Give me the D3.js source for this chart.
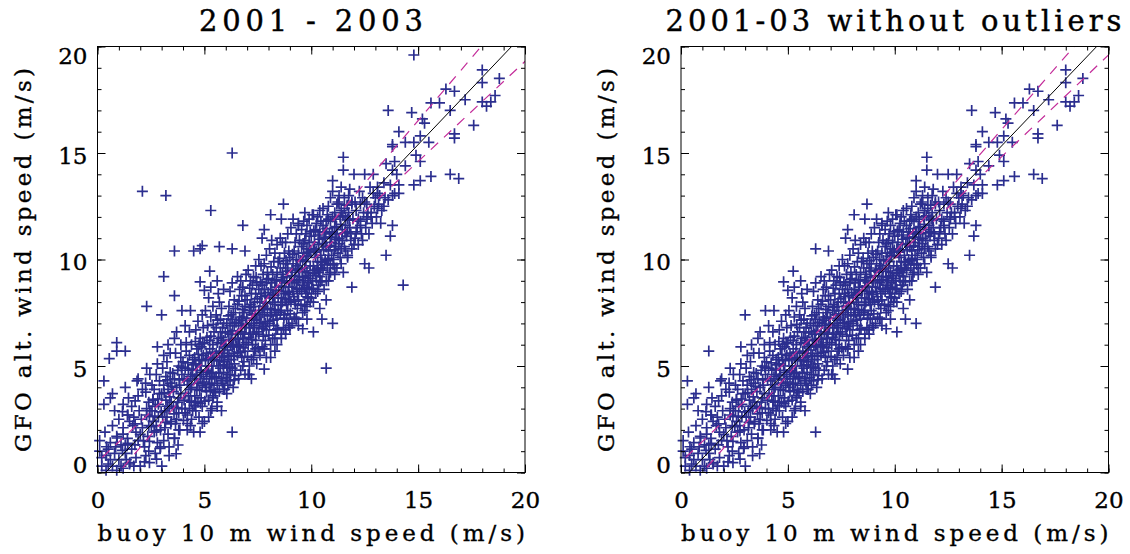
<!DOCTYPE html>
<html>
<head>
<meta charset="utf-8">
<script src="https://cdn.jsdelivr.net/npm/d3@7"></script>
<style>
  body { margin: 0; background: #fff; }
  svg { display: block; }
</style>
</head>
<body>
<svg id="chart" width="1130" height="554"></svg>
<script>
// panel titles and axis text
var panelTitles = ["2001 - 2003", "2001-03 without outliers"];
var xLabel = "buoy 10 m wind speed (m/s)";
var yLabel = "GFO alt. wind speed (m/s)";
var majorTicks = [0, 5, 10, 15, 20];
var minorTicks = d3.range(0, 21, 1);

// fitted line and the two dashed lines, [intercept, slope] per panel
var fitLines = [[-0.40, 1.053], [-0.40, 1.049]];
var steepLines = [[-1.18, 1.18], [-1.15, 1.15]];
var flatLines = [[0.50, 0.94], [0.50, 0.955]];

// buoy wind (x), GFO wind (y) pairs kept in both panels
var keptPoints = [
  [18.0,18.9],[18.0,18.3],[18.8,18.5],[16.3,18.0],[16.7,17.9],[15.6,17.35],[16.0,17.35],[13.6,17.0],[14.7,16.9],[16.5,17.0],
  [17.2,17.5],[18.0,17.4],[18.2,17.2],[18.4,17.4],[18.6,17.7],[17.6,16.3],[16.7,15.9],[16.7,15.7],[15.2,16.6],[15.3,16.4],
  [15.1,15.8],[14.8,15.5],[15.5,15.5],[14.1,16.0],[13.8,15.4],[13.8,15.3],[14.4,15.5],[14.9,14.9],[15.1,14.6],[13.5,14.5],
  [13.9,14.6],[14.4,14.4],[14.0,14.0],[14.8,13.5],[15.1,13.7],[15.6,13.9],[16.5,14.0],[16.9,13.8],[14.1,13.5],[13.8,13.0],
  [14.1,13.1],[13.1,13.4],[12.9,14.0],[11.5,14.8],[11.5,14.2],[12.0,14.0],[12.5,14.0],[11.0,13.7],
  [8.7,12.6],[8.1,12.1],[8.6,11.9],[9.7,12.2],[10.1,12.1],[9.4,11.7],[6.3,10.5],[6.9,10.4],[7.8,11.4],[7.7,11.0],
  [11.1,9.6],[11.5,9.4],[11.9,8.7],[12.5,9.8],[12.7,9.6],[13.5,10.2],[13.7,11.1],[13.8,11.6],[13.1,12.4],[13.4,12.5],
  [12.8,12.2],[12.6,12.0],[12.3,11.6],[12.1,11.3],[13.0,12.9],[13.1,13.1],[12.5,12.7],[11.9,12.6],[11.55,12.9],[11.3,12.6],
  [11.0,13.2],[11.1,12.2],[10.8,11.9],[11.7,11.9],[12.0,10.7],[11.6,10.4],[11.7,10.1],[11.4,9.8],[11.3,10.9],[11.0,11.3],
  [10.7,10.6],[10.5,9.9],[10.9,9.4],[10.5,9.0],[10.1,8.6],[10.0,8.2],[10.4,7.7],[9.7,7.6],[9.3,7.25],[9.0,6.8],[9.8,8.7],[10.3,9.6],
  [6.3,1.9],[4.5,1.9],[4.8,1.9],[4.2,2.3],[3.8,2.0],[4.4,2.5],[5.0,2.4],[5.6,3.1],[5.3,2.9],[4.6,3.3],[4.1,2.8],[5.4,3.5],
  [5.9,3.9],[5.8,4.3],[6.1,4.1],[6.4,4.35],[6.2,4.6],[7.1,4.6],[7.2,4.4],[7.45,5.1],[7.8,4.85],[8.1,5.4],[7.8,5.8],[8.3,5.7],
  [8.6,6.3],[8.8,6.5],[9.6,6.75],[10.1,6.6],[9.8,7.2],[10.5,7.2],[11.0,7.0],[10.7,8.1],
  [3.0,7.4],[3.95,7.6],[4.35,7.6],[2.8,5.9],[3.1,5.5],[5.25,9.45],[4.8,8.95],[5.0,8.55],[5.6,9.0],[2.3,4.9],[1.9,4.4],[1.3,5.7],
  [0.42,1.21],[0.92,1.62],[1.17,1.04],[1.42,1.37],[1.76,2.28],[2.0,1.79],[2.26,0.79],[2.43,1.46],[2.43,2.62],[2.76,1.95],
  [2.93,1.13],[3.26,3.11],[3.43,2.28],[3.6,1.62],[3.68,0.88],[3.77,1.29],[1.51,0.46],[2.0,0.3],[2.43,0.46],[3.01,0.3],
  [2.76,0.63],[3.35,0.79],[1.17,2.86],[1.42,2.7],[1.76,3.36],[2.26,3.77],[2.59,3.44],
  [0.3,4.3],[0.3,3.2],[0.6,3.5],[0.7,3.7],[0.8,2.9],[0.1,1.5],[0.1,1.0],[0.4,0.8],[0.6,0.6],[0.2,0.3],[0.7,0.3],[0.9,0.1],
  [1.2,0.2],[1.0,0.6],[1.3,0.9],[1.1,1.3],[1.4,1.6],[0.5,1.1],[0.9,1.7],[1.3,1.3],[0.8,0.9],[1.3,4.0],[1.5,2.4],[1.2,2.1],
  [0.4,0.1],[1.5,0.4],[1.4,2.7],[0.2,0.7],[0.5,0.4],[0.35,1.9],[0.7,2.2],[1.0,2.5],[1.2,3.2],[1.45,3.5],[1.1,0.3],[0.6,1.4],
  [0.85,1.2],[1.35,0.6],[1.2,1.8],
  [1.6,1.1],[1.7,2.6],[1.8,0.7],[1.9,1.5],[1.6,3.1],[1.8,1.9],[1.95,2.9],[1.7,0.3],[1.9,3.6],[1.65,2.2],[1.85,4.3],[1.75,1.3],
  [2.1,2.1],[2.2,1.2],[2.3,2.7],[2.4,3.3],[2.1,3.9],[2.2,0.5],[2.35,1.7],[2.45,4.6],[2.05,2.5],[2.3,3.0],[2.4,2.2],[2.15,1.5],
  [2.25,4.2],[2.4,1.0],[2.45,2.9],
  [2.6,2.4],[2.7,3.1],[2.8,1.4],[2.9,3.7],[2.55,4.1],[2.65,1.9],[2.75,4.6],[2.85,2.6],[2.95,2.0],[2.6,3.4],[2.7,0.9],[2.8,5.1],
  [2.9,4.3],[2.55,2.9],[2.65,3.9],[2.85,3.2],[2.95,1.2],[2.75,2.2],
  [3.05,2.6],[3.1,4.1],[3.2,3.4],[3.3,1.8],[3.4,4.7],[3.15,2.1],[3.25,5.2],[3.35,3.0],[3.45,2.4],[3.0,3.7],[3.1,1.5],[3.2,4.5],
  [3.3,3.9],[3.4,5.6],[3.45,3.3],[3.15,2.9],[3.35,1.2],[3.25,2.6],[3.05,4.9],[3.4,4.2],[3.3,6.0],
  [3.55,3.1],[3.6,4.4],[3.7,2.5],[3.8,5.0],[3.9,3.7],[3.65,5.6],[3.75,3.3],[3.85,2.0],[3.95,4.6],[3.6,6.3],[3.7,4.0],[3.8,2.8],
  [3.9,5.4],[3.55,3.8],[3.65,2.3],[3.75,4.8],[3.85,4.1],[3.95,3.0],[3.7,6.6],[3.8,3.5],[3.6,1.6],[3.9,6.0],
  [4.05,3.4],[4.1,4.9],[4.2,2.7],[4.3,5.5],[4.4,4.0],[4.15,6.1],[4.25,3.6],[4.35,2.2],[4.45,4.6],[4.0,5.2],[4.1,3.0],[4.2,4.3],
  [4.3,6.6],[4.4,3.3],[4.15,5.7],[4.25,4.8],[4.35,3.9],[4.45,5.3],[4.05,4.4],[4.2,2.0],[4.3,3.0],[4.4,6.0],[4.1,6.9],[4.35,4.5],[4.45,2.9],
  [4.55,3.6],[4.6,5.1],[4.7,4.2],[4.8,6.3],[4.9,3.1],[4.65,5.8],[4.75,2.6],[4.85,4.7],[4.95,5.5],[4.55,4.4],[4.6,6.7],[4.7,3.3],
  [4.8,5.0],[4.9,4.1],[4.65,3.9],[4.75,6.0],[4.85,3.5],[4.95,6.8],[4.55,5.4],[4.7,7.1],[4.8,4.4],[4.9,2.3],[4.6,2.9],[4.75,5.3],
  [4.85,5.9],[4.95,4.6],[4.65,4.8],[4.9,7.4],
  [5.05,4.0],[5.1,5.6],[5.2,3.4],[5.3,6.4],[5.4,4.7],[5.15,6.9],[5.25,4.4],[5.35,3.0],[5.45,5.3],[5.0,6.1],[5.1,3.8],[5.2,5.0],
  [5.3,7.3],[5.4,3.6],[5.15,4.8],[5.25,5.8],[5.35,4.2],[5.45,6.6],[5.05,7.6],[5.2,2.6],[5.3,5.4],[5.4,7.8],[5.1,4.5],[5.25,6.2],
  [5.35,5.0],[5.45,3.9],[5.05,5.3],[5.4,6.0],[5.2,8.2],[5.3,8.7],
  [5.55,4.5],[5.6,6.1],[5.7,3.8],[5.8,5.4],[5.9,7.0],[5.65,5.0],[5.75,6.6],[5.85,4.2],[5.95,5.9],[5.55,7.4],[5.6,3.3],[5.7,5.7],
  [5.8,7.7],[5.9,4.7],[5.65,6.3],[5.75,4.9],[5.85,6.8],[5.95,5.2],[5.55,5.6],[5.7,8.0],[5.8,4.4],[5.9,6.2],[5.6,4.1],[5.75,7.2],
  [5.85,5.6],[5.95,3.9],[5.65,8.4],[5.9,8.6],[5.55,6.8],[5.8,2.9],
  [6.05,5.0],[6.1,6.6],[6.2,4.3],[6.3,7.2],[6.4,5.6],[6.15,7.8],[6.25,5.3],[6.35,4.0],[6.45,6.3],[6.0,6.0],[6.1,4.6],[6.2,6.9],
  [6.3,5.9],[6.4,8.1],[6.15,5.5],[6.25,6.5],[6.35,7.5],[6.45,4.8],[6.05,7.0],[6.2,8.5],[6.3,4.9],[6.4,6.9],[6.1,5.3],[6.25,7.4],
  [6.35,6.0],[6.45,7.7],[6.05,3.7],[6.3,8.9],[6.15,6.2],[6.4,5.1],
  [6.55,5.5],[6.6,7.0],[6.7,4.8],[6.8,6.3],[6.9,7.8],[6.65,6.0],[6.75,8.3],[6.85,5.2],[6.95,6.8],[6.55,7.9],[6.6,4.4],[6.7,6.6],
  [6.8,8.7],[6.9,5.7],[6.65,7.3],[6.75,5.4],[6.85,7.5],[6.95,6.1],[6.55,6.5],[6.7,9.0],[6.8,5.0],[6.9,8.3],[6.6,5.9],[6.75,6.9],
  [6.85,6.3],[6.95,9.3],[6.65,8.6],[6.9,4.6],[6.55,9.2],[6.8,7.3],
  [7.05,6.0],[7.1,7.6],[7.2,5.3],[7.3,6.9],[7.4,8.4],[7.15,6.5],[7.25,8.8],[7.35,5.7],[7.45,7.2],[7.0,8.1],[7.1,5.0],[7.2,7.0],
  [7.3,9.2],[7.4,6.2],[7.15,7.9],[7.25,6.0],[7.35,8.0],[7.45,6.6],[7.05,9.5],[7.2,8.4],[7.3,5.4],[7.4,9.7],[7.1,6.8],[7.25,7.4],
  [7.35,6.8],[7.45,8.9],[7.05,4.6],[7.3,7.8],[7.15,9.0],[7.4,5.8],
  [7.55,6.5],[7.6,8.0],[7.7,5.9],[7.8,7.4],[7.9,8.9],[7.65,7.0],[7.75,9.3],[7.85,6.2],[7.95,7.7],[7.55,8.6],[7.6,5.5],[7.7,7.5],
  [7.8,9.8],[7.9,6.7],[7.65,8.4],[7.75,6.4],[7.85,8.3],[7.95,7.1],[7.55,10.0],[7.7,8.8],[7.8,5.8],[7.9,10.2],[7.6,7.3],[7.75,7.8],
  [7.85,7.0],[7.95,9.4],[7.65,9.7],[7.9,5.4],[7.55,7.6],[7.8,8.6],
  [8.05,7.0],[8.1,8.6],[8.2,6.3],[8.3,7.9],[8.4,9.4],[8.15,7.5],[8.25,9.9],[8.35,6.7],[8.45,8.2],[8.0,9.1],[8.1,6.0],[8.2,8.0],
  [8.3,10.3],[8.4,7.2],[8.15,8.9],[8.25,6.9],[8.35,8.7],[8.45,7.6],[8.05,10.5],[8.2,9.3],[8.3,6.3],[8.4,10.7],[8.1,7.7],[8.25,8.3],
  [8.35,7.4],[8.45,9.9],[8.15,10.9],[8.4,6.0],[8.05,8.2],[8.3,9.0],
  [8.55,7.5],[8.6,9.0],[8.7,6.8],[8.8,8.4],[8.9,9.8],[8.65,8.0],[8.75,10.3],[8.85,7.2],[8.95,8.7],[8.55,9.6],[8.6,6.5],[8.7,8.5],
  [8.8,10.8],[8.9,7.6],[8.65,9.3],[8.75,7.4],[8.85,9.2],[8.95,8.1],[8.55,11.0],[8.7,9.8],[8.8,6.7],[8.9,11.2],[8.6,8.2],[8.75,8.9],
  [8.85,7.9],[8.95,10.4],[8.65,10.8],[8.8,9.6],[8.95,6.9],[8.6,7.6],
  [9.05,8.0],[9.1,9.5],[9.2,7.3],[9.3,8.9],[9.4,10.3],[9.15,8.5],[9.25,10.8],[9.35,7.7],[9.45,9.2],[9.0,10.1],[9.1,7.0],[9.2,9.0],
  [9.3,11.2],[9.4,8.1],[9.15,9.8],[9.25,7.9],[9.35,9.7],[9.45,8.6],[9.05,11.5],[9.2,10.4],[9.3,7.2],[9.4,11.6],[9.1,8.7],[9.25,9.4],
  [9.35,8.4],[9.45,10.9],[9.15,11.9],[9.4,6.9],[9.0,9.0],[9.3,10.0],
  [9.55,8.5],[9.6,10.0],[9.7,7.9],[9.8,9.4],[9.9,10.8],[9.65,9.0],[9.75,11.2],[9.85,8.2],[9.95,9.7],[9.55,10.6],[9.6,7.5],[9.7,9.6],
  [9.8,11.6],[9.9,8.6],[9.65,10.3],[9.75,8.4],[9.85,10.2],[9.95,9.1],[9.55,11.4],[9.7,10.9],[9.8,7.8],[9.9,11.9],[9.6,9.2],[9.75,9.9],
  [9.85,8.9],[9.95,11.3],[9.65,11.8],[9.8,10.5],[9.95,8.0],[9.6,8.8],
  [10.05,9.0],[10.1,10.5],[10.2,8.4],[10.3,9.9],[10.4,11.3],[10.15,9.5],[10.25,11.7],[10.35,8.8],[10.45,10.2],[10.0,11.1],[10.1,8.0],
  [10.2,10.1],[10.3,12.0],[10.4,9.2],[10.15,10.8],[10.25,9.0],[10.35,10.7],[10.45,9.6],[10.05,12.1],[10.2,11.4],[10.3,8.5],[10.4,12.3],
  [10.1,9.7],[10.25,10.4],[10.35,9.4],[10.45,11.8],
  [10.55,9.5],[10.6,11.0],[10.7,9.0],[10.8,10.4],[10.9,11.8],[10.65,10.0],[10.75,12.1],[10.85,9.3],[10.95,10.8],[10.55,11.6],
  [10.6,8.6],[10.7,10.6],[10.8,12.5],[10.9,9.8],[10.65,11.3],[10.75,9.6],[10.85,11.2],[10.95,10.2],[10.55,12.4],[10.7,11.8],[10.8,9.0],[10.9,12.9],
  [11.05,10.0],[11.1,11.5],[11.2,9.6],[11.3,11.0],[11.4,12.3],[11.15,10.6],[11.25,12.7],[11.35,10.1],[11.45,11.4],[11.0,12.0],
  [11.1,9.3],[11.2,11.2],[11.3,13.0],[11.4,10.5],[11.15,11.9],[11.25,10.3],[11.35,12.0],[11.45,10.9],[11.2,12.6],[11.4,13.4],
  [11.55,10.6],[11.6,12.0],[11.7,10.2],[11.8,11.5],[11.9,12.7],[11.65,11.1],[11.75,13.0],[11.85,10.9],[11.95,11.9],[11.55,12.4],
  [11.7,11.3],[11.8,13.3],[11.9,10.5],[11.6,11.6],[11.75,12.2],[11.85,11.2],
  [12.05,11.0],[12.1,12.3],[12.2,10.7],[12.3,11.8],[12.4,12.9],[12.15,11.5],[12.25,13.2],[12.35,11.2],[12.45,12.2],[12.05,12.7],
  [12.2,11.9],[12.4,10.9],[12.3,12.6],
  [12.55,11.5],[12.6,12.6],[12.7,11.2],[12.8,12.0],[12.9,13.1],[12.65,12.2],[12.75,13.4],[12.85,11.7],[12.95,12.5],[12.6,11.9],
  [13.05,12.0],[13.2,13.0],[13.3,12.3],[13.4,13.6],[13.15,12.6],[13.25,11.7],[13.45,12.9],
  [13.6,12.8],[13.7,13.5],[13.9,13.1],[13.8,14.2],
  // extra points filling the dense middle of the cloud
  [3.12,3.75],[3.48,4.05],[3.58,2.75],[3.92,4.95],[4.12,3.72],[4.28,4.12],[4.48,5.05],[4.52,3.15],[4.62,4.55],[4.78,3.85],
  [4.88,5.25],[4.98,4.25],[5.08,4.75],[5.18,5.35],[5.28,3.85],[5.38,5.65],[5.48,4.45],[5.58,5.25],[5.68,4.65],[5.78,6.05],
  [5.88,5.05],[5.98,6.55],[6.08,5.75],[6.18,4.95],[6.28,6.25],[6.38,5.45],[6.48,7.05],[6.58,6.25],[6.68,5.65],[6.78,7.65],
  [6.88,6.55],[6.98,7.25],[7.08,6.35],[7.18,7.75],[7.28,6.55],[7.38,7.45],[7.48,8.15],[7.58,7.05],[7.68,8.25],[7.78,6.85],
  [7.88,7.95],[7.98,8.45],[8.08,7.35],[8.18,8.35],[8.28,7.65],[8.38,9.05],[8.48,8.55],[8.58,7.85],[8.68,9.15],[8.78,8.15],
  [8.88,9.45],[8.98,8.35],[9.08,9.25],[9.18,8.25],[9.28,9.55],[9.38,9.05],[9.48,9.95],[9.58,9.45],[9.68,8.65],[9.78,10.15],
  [9.88,9.25],[9.98,10.45],[10.08,9.35],[10.18,10.35],[10.28,9.55],[10.38,10.95],[10.48,9.85],[10.58,10.45],[10.68,11.05],[10.78,9.95],
  [10.88,10.65],[10.98,11.25],[11.08,10.45],[11.18,11.55],[11.28,10.75],[11.38,11.65],[11.48,12.05],[11.58,11.25],[11.68,12.55],[11.78,11.85],
  [2.52,2.15],[2.68,2.65],[2.82,3.45],[2.98,2.85],[3.18,2.35],[3.28,4.35],[3.38,3.55],[3.52,4.65],[3.68,3.05],[3.82,4.35],
  [4.02,2.45],[4.22,5.15],[4.32,3.35],[4.42,4.85],[4.58,6.15],[4.72,5.55],[4.82,3.25],[4.92,6.05],[5.02,3.35],[5.12,6.35],
  [5.22,4.15],[5.32,4.65],[5.42,6.95],[5.52,3.75],[5.62,7.15],[5.72,5.25],[5.82,6.35],[5.92,5.45],[6.02,4.45],[6.12,7.35],
  [6.22,5.95],[6.32,6.65],[6.42,4.55],[6.52,5.95],[6.62,8.05],[6.72,7.15],[6.82,5.85],[6.92,6.95],[7.02,5.45],[7.12,8.65],
  [7.22,6.25],[7.32,7.15],[7.42,9.15],[7.52,5.85],[7.62,8.95],[7.72,6.75],[7.82,7.65],[7.92,9.05],[8.02,6.45],[8.12,9.65],
  [8.22,7.15],[8.32,8.55],[8.42,6.75],[8.52,10.05],[8.62,8.75],[8.72,7.25],[8.82,9.95],[8.92,8.45],[9.02,7.45],[9.12,10.25],
  [9.22,8.05],[9.32,8.65],[9.42,9.55],[9.52,7.85],[9.62,10.75],[9.72,9.15],[9.82,8.25],[9.92,10.35],[10.02,8.65],[10.12,11.35],
  [10.22,9.25],[10.32,11.15],[10.42,8.95],[10.52,10.75],[10.62,9.75],[10.72,11.45],[10.82,10.05],[10.92,11.05],[11.02,9.75],[11.12,10.95]
];

// points only in the left panel (removed as outliers on the right)
var outlierPoints = [
  [14.8,19.6],[6.3,15.0],[2.1,13.2],[3.2,13.0],[5.3,12.3],[6.8,11.6],[5.7,10.6],[3.6,10.4],[4.5,10.4],[4.9,10.65],
  [4.8,10.5],[3.1,9.2],[2.3,7.8],[3.6,8.3],[0.55,5.35],[0.9,6.1],[0.9,5.7],[10.7,4.9],[14.3,8.8]
];

var panels = [
  {left: 97.5, title: panelTitles[0], titleX: 199, titleLen: 224, data: keptPoints.concat(outlierPoints)},
  {left: 681, title: panelTitles[1], titleX: 665.5, titleLen: 456, data: keptPoints}
];
var plotTop = 46.5, plotW = 427.5, plotH = 426;
var serif = "'DejaVu Serif', serif";

var svg = d3.select("#chart");

panels.forEach(function(p, i){
  var x = d3.scaleLinear().domain([0, 20]).range([p.left, p.left + plotW]);
  var y = d3.scaleLinear().domain([0, 20]).range([plotTop + plotH, plotTop]);

  svg.append("clipPath").attr("id", "clip" + i)
    .append("rect").attr("x", p.left).attr("y", plotTop).attr("width", plotW).attr("height", plotH);

  // points
  svg.append("g").selectAll("path")
    .data(p.data).join("path")
      .attr("transform", d => `translate(${x(d[0])},${y(d[1])})`)
      .attr("d", "M-5.5,0H5.5M0,-5.5V5.5")
      .attr("stroke", "#2b2e8f")
      .attr("stroke-width", 1.7)
      .attr("fill", "none");

  // lines
  var lg = svg.append("g").attr("clip-path", `url(#clip${i})`);
  function addLine(par, color, dash, w){
    var pts = [-1, 21].map(v => [x(v), y(par[0] + par[1] * v)]);
    lg.append("path")
      .attr("d", d3.line()(pts))
      .attr("stroke", color)
      .attr("stroke-width", w)
      .attr("stroke-dasharray", dash)
      .attr("fill", "none");
  }
  addLine(steepLines[i], "#c42d9a", "10,8", 1.2);
  addLine(flatLines[i], "#c42d9a", "10,8", 1.2);
  addLine(fitLines[i], "#000", null, 1);

  // axes: ticks pointing inward on all four sides
  function styleAxis(g){
    g.select(".domain").remove();
    g.selectAll("line").attr("stroke", "#000");
  }
  [[d3.axisBottom, y(0)], [d3.axisTop, y(20)]].forEach(function(a, k){
    svg.append("g").attr("transform", `translate(0,${a[1]})`)
      .call(a[0](x).tickValues(minorTicks).tickSize(-4).tickFormat("")).call(styleAxis);
    var g = svg.append("g").attr("transform", `translate(0,${a[1]})`)
      .call(a[0](x).tickValues(majorTicks).tickSize(-8).tickPadding(k == 0 ? 19 : 0).tickFormat(k == 0 ? d3.format("d") : ""))
      .call(styleAxis);
    g.attr("font-family", serif).attr("font-size", 23);
    g.selectAll("text").attr("fill", "#000").attr("stroke", "#000").attr("stroke-width", 0.35);
  });
  [[d3.axisLeft, x(0)], [d3.axisRight, x(20)]].forEach(function(a, k){
    svg.append("g").attr("transform", `translate(${a[1]},0)`)
      .call(a[0](y).tickValues(minorTicks).tickSize(-4).tickFormat("")).call(styleAxis);
    var g = svg.append("g").attr("transform", `translate(${a[1]},0)`)
      .call(a[0](y).tickValues(majorTicks).tickSize(-8).tickPadding(k == 0 ? 10 : 0).tickFormat(k == 0 ? d3.format("d") : ""))
      .call(styleAxis);
    g.attr("font-family", serif).attr("font-size", 23);
    g.selectAll("text").attr("fill", "#000").attr("stroke", "#000").attr("stroke-width", 0.35)
      .attr("dy", d => d == 20 ? "0.72em" : d == 0 ? "-0.02em" : "0.45em");
  });

  svg.append("rect")
    .attr("x", p.left).attr("y", plotTop).attr("width", plotW).attr("height", plotH)
    .attr("fill", "none").attr("stroke", "#000").attr("stroke-width", 1);

  // titles
  svg.append("text")
    .attr("x", p.titleX).attr("y", 30.5)
    .attr("font-family", serif).attr("font-size", 29)
    .attr("stroke", "#000").attr("stroke-width", 0.4)
    .attr("textLength", p.titleLen).attr("lengthAdjust", "spacing")
    .text(p.title);
  svg.append("text")
    .attr("x", p.left).attr("y", 541)
    .attr("font-family", serif).attr("font-size", 23)
    .attr("stroke", "#000").attr("stroke-width", 0.35)
    .attr("textLength", plotW).attr("lengthAdjust", "spacing")
    .text(xLabel);
  svg.append("text")
    .attr("transform", `translate(${p.left - 67},452) rotate(-90)`)
    .attr("font-family", serif).attr("font-size", 23)
    .attr("stroke", "#000").attr("stroke-width", 0.35)
    .attr("textLength", 384).attr("lengthAdjust", "spacing")
    .text(yLabel);
});
</script>
</body>
</html>
